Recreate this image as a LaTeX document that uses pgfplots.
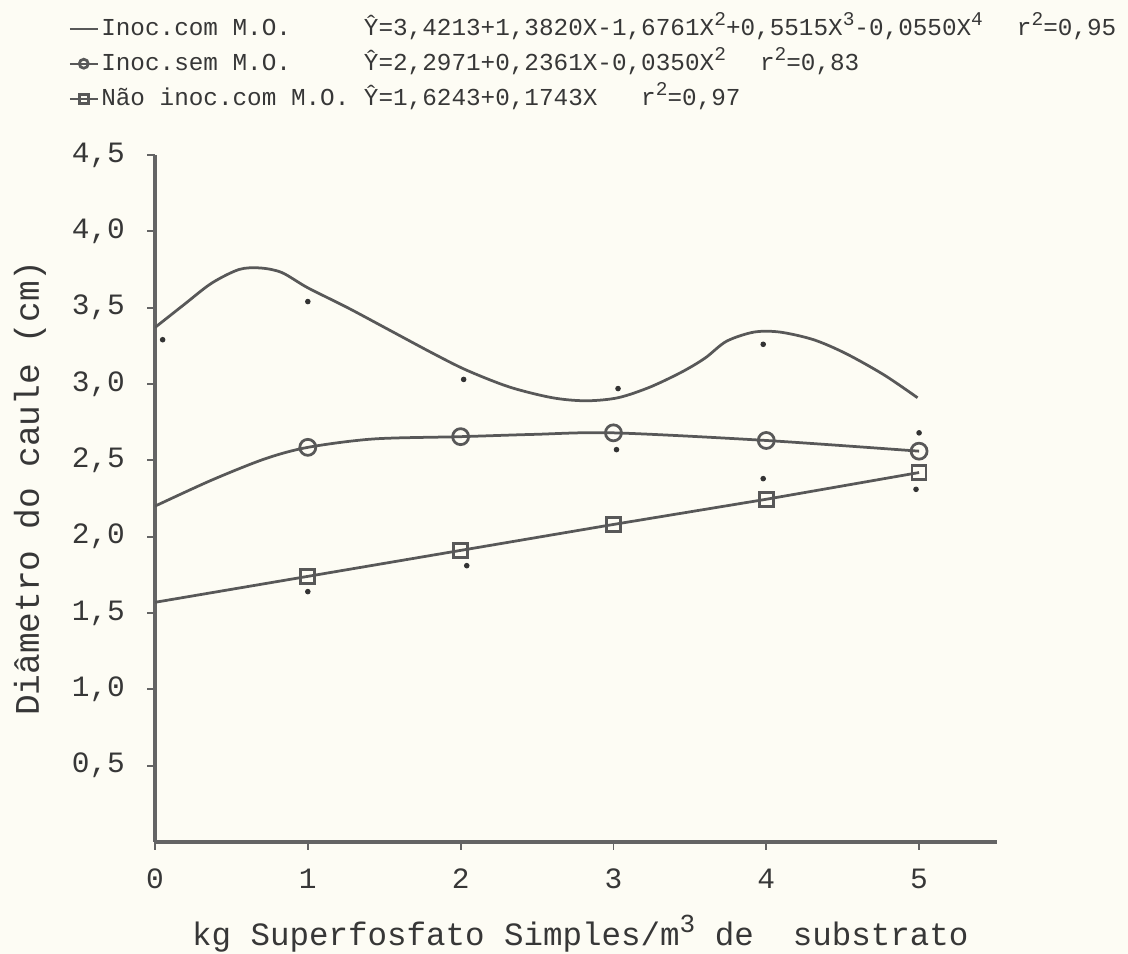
\documentclass[border=0pt]{standalone}
\usepackage{fontspec}
\setmainfont{Liberation Mono}
\setmonofont{Liberation Mono}
\usepackage{graphicx}
\usepackage{pgfplots}
\pgfplotsset{compat=1.18}
\definecolor{bg}{RGB}{253,252,244}
\definecolor{ink}{RGB}{55,55,55}
\definecolor{crv}{RGB}{88,88,88}
\definecolor{axl}{RGB}{100,100,100}
\newcommand{\sq}[1]{\raisebox{0.75ex}{\scalebox{0.8}{#1}}}
\begin{document}
\begin{tikzpicture}
\fill[bg] (-62pt,-44.8pt) rectangle (389.2pt,336.8pt);
\begin{axis}[
  width=336.8pt, height=274.8pt, scale only axis,
  xmin=0, xmax=5.51, ymin=0, ymax=4.5,
  axis lines*=left,
  axis line style={axl, line width=1.3pt, -},
  xtick={0,1,2,3,4,5},
  xticklabels={0,1,2,3,4,5},
  ytick={0.5,1,1.5,2,2.5,3,3.5,4,4.5},
  yticklabels={{0,5},{1,0},{1,5},{2,0},{2,5},{3,0},{3,5},{4,0},{4,5}},
  /pgf/number format/assume math mode=true,
  tick align=outside, major tick length=3.2pt,
  tick style={axl, line width=0.7pt},
  tick label style={font=\fontsize{11.8}{13}\selectfont, text=ink},
  yticklabel shift=5.3pt,
  xticklabel shift=4.1pt,
  xlabel={kg Superfosfato Simples/m\sq{3} de\ \ substrato},
  ylabel={Diâmetro do caule (cm)},
  xlabel style={font=\fontsize{13}{15}\selectfont, text=ink, at={(axis description cs:0.505,-0.15)}, anchor=base},
  ylabel style={font=\fontsize{13.8}{16}\selectfont, text=ink, at={(axis description cs:-0.1485,0.515)}, anchor=center},
  legend style={draw=none, fill=none, inner sep=0pt, at={(axis description cs:-0.103,1.21)}, anchor=north west,
    font=\fontsize{9.73}{11}\selectfont, text=ink, row sep=0pt, column sep=0pt,
    nodes={inner xsep=1pt, inner ysep=0pt, text height=9.6pt, text depth=4.4pt}},
  legend cell align=left,
  legend image code/.code={\draw[#1, mark indices={2}, mark size=1.8pt, line width=0.8pt] plot coordinates {(0pt,0pt) (5.6pt,0pt) (11.2pt,0pt)};},
]
% Inoc. com M.O.
\addplot[crv, line width=1.1pt, smooth, mark=none] coordinates {
 (0,3.37) (0.19,3.52) (0.37,3.66) (0.55,3.75) (0.69,3.76) (0.83,3.73) (1.0,3.63)
 (1.26,3.50) (1.54,3.35) (1.82,3.20) (2.04,3.09) (2.32,2.98) (2.60,2.91) (2.82,2.89)
 (3.03,2.91) (3.24,2.98) (3.45,3.08) (3.60,3.17) (3.74,3.28) (3.92,3.34) (4.09,3.34)
 (4.31,3.29) (4.52,3.20) (4.77,3.06) (4.99,2.91)};
\addlegendentry{\makebox[10.8em][l]{Inoc.com M.O.}Ŷ=3,4213+1,3820X-1,6761X\sq{2}+0,5515X\sq{3}-0,0550X\sq{4}\hspace{1.4em}r\sq{2}=0,95}
% Inoc. sem M.O.
\addplot[crv, line width=1.1pt, smooth, mark=o, mark size=3.2pt, mark indices={4,6,8,9,10},
  mark options={solid, fill=bg, line width=1.1pt}] coordinates {
 (0,2.20) (0.37,2.37) (0.72,2.51) (1,2.585) (1.43,2.64) (2,2.655) (2.48,2.67) (3,2.68) (4,2.63) (5,2.56)};
\addlegendentry{\makebox[10.8em][l]{Inoc.sem M.O.}Ŷ=2,2971+0,2361X-0,0350X\sq{2}\hspace{1.4em}r\sq{2}=0,83}
% Nao inoc. com M.O.
\addplot[crv, line width=1.1pt, mark=square, mark size=2.8pt, mark indices={2,3,4,5,6},
  mark options={solid, fill=bg, line width=1.1pt}] coordinates {
 (0,1.57) (1,1.74) (2,1.91) (3,2.08) (4,2.245) (5,2.42)};
\addlegendentry{\makebox[10.8em][l]{Não inoc.com M.O.}Ŷ=1,6243+0,1743X\hspace{1.8em}r\sq{2}=0,97}
% observed points
\addplot[only marks, mark=*, mark size=0.9pt, color=black!80, forget plot] coordinates {
 (0.05,3.29) (1.0,3.54) (2.02,3.03) (3.03,2.97) (3.98,3.26) (5.0,2.68)
 (3.02,2.57) (3.98,2.38) (4.98,2.31) (2.04,1.81) (1.0,1.64)};
\end{axis}
\pgfresetboundingbox
\path[use as bounding box] (-62pt,-44.8pt) rectangle (389.2pt,336.8pt);
\end{tikzpicture}
\end{document}
